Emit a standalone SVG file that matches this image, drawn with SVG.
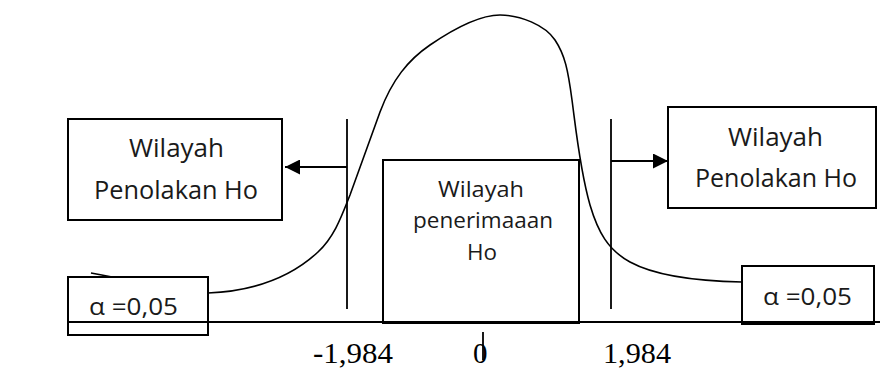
<svg xmlns="http://www.w3.org/2000/svg" width="880" height="370" viewBox="0 0 880 370">
<defs>
<style>
.box{fill:#fff;stroke:#000;stroke-width:2}
.ln{fill:none;stroke:#000;stroke-width:1.8}
.cv{fill:none;stroke:#000;stroke-width:1.6}
.t{font-family:"Open Sans","Noto Sans",sans-serif;fill:#1a1a1a}
.big{font-size:26px}
.mid{font-size:22.5px}
.sm{font-size:23.5px}
.num{font-family:"Liberation Serif","Times New Roman",serif;font-size:29px;fill:#000}
</style>
<marker id="ah" viewBox="0 0 10 10" refX="10" refY="5" markerWidth="15" markerHeight="15" markerUnits="userSpaceOnUse" orient="auto">
<path d="M0,0 L10,5 L0,10 z" fill="#000"/>
</marker>
</defs>
<rect width="880" height="370" fill="#fff"/>
<g id="curve">
<path class="cv" d="M91,273 Q102,275 112,277"/>
<path class="cv" d="M208,293 C255,291 290,278 318,252 C335,236 342,215 350,195 L380,112 C392,80 408,60 430,45 C452,30 480,15 500,15 C520,15 545,25 555,40 C565,55 568,70 572,100 C576,130 580,170 590,205 C598,232 608,250 630,262 C652,274 690,281 742,282"/>
</g>
<g id="left-region">
<rect class="box" x="68" y="119" width="214" height="101"/>
<text class="t big" x="129" y="157" textLength="95" lengthAdjust="spacingAndGlyphs">Wilayah</text>
<text class="t big" x="94" y="199" textLength="164" lengthAdjust="spacingAndGlyphs">Penolakan Ho</text>
</g>
<g id="right-region">
<rect class="box" x="668" y="107" width="208" height="101"/>
<text class="t big" x="728" y="146" textLength="95" lengthAdjust="spacingAndGlyphs">Wilayah</text>
<text class="t big" x="695" y="187" textLength="162" lengthAdjust="spacingAndGlyphs">Penolakan Ho</text>
</g>
<g id="accept-region">
<rect class="box" x="383" y="160" width="196" height="163"/>
<text class="t mid" x="438" y="197" textLength="86" lengthAdjust="spacingAndGlyphs">Wilayah</text>
<text class="t mid" x="413" y="228" textLength="140" lengthAdjust="spacingAndGlyphs">penerimaaan</text>
<text class="t mid" x="467" y="260" textLength="30" lengthAdjust="spacingAndGlyphs">Ho</text>
</g>
<g id="alpha-left">
<rect class="box" x="68" y="277" width="140" height="58"/>
<text class="t sm" x="89" y="315" textLength="89" lengthAdjust="spacingAndGlyphs">α =0,05</text>
</g>
<g id="alpha-right">
<rect class="box" x="742" y="266" width="132" height="58"/>
<text class="t sm" x="763" y="305" textLength="89" lengthAdjust="spacingAndGlyphs">α =0,05</text>
</g>
<g id="connectors">
<line class="ln" x1="68" y1="322" x2="880" y2="322"/>
<line class="ln" x1="347" y1="119" x2="347" y2="309"/>
<line class="ln" x1="611" y1="119" x2="611" y2="309"/>
<line class="ln" x1="483" y1="332" x2="483" y2="360"/>
<line class="ln" x1="347" y1="167" x2="285" y2="167" marker-end="url(#ah)"/>
<line class="ln" x1="611" y1="161" x2="668" y2="161" marker-end="url(#ah)"/>
</g>
<g id="axis-labels">
<text class="num" x="313" y="363" textLength="80" lengthAdjust="spacingAndGlyphs">-1,984</text>
<text class="num" x="473" y="363">0</text>
<text class="num" x="603" y="363" textLength="68" lengthAdjust="spacingAndGlyphs">1,984</text>
</g>
</svg>
